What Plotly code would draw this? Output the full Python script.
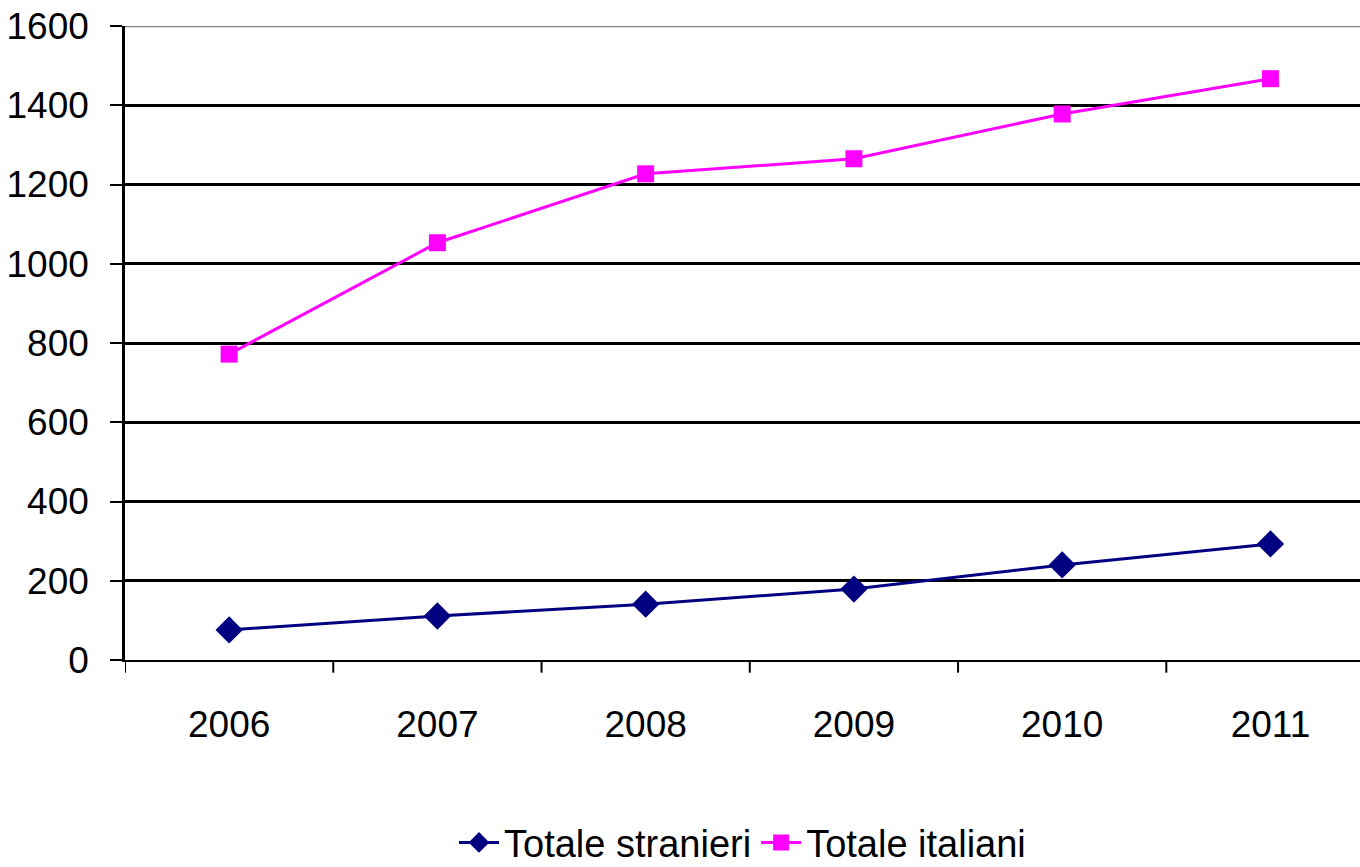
import plotly.graph_objects as go

anni = ["2006", "2007", "2008", "2009", "2010", "2011"]
totale_stranieri = [76, 111, 141, 179, 240, 293]
totale_italiani = [772, 1053, 1227, 1265, 1378, 1467]
y_ticks = [0, 200, 400, 600, 800, 1000, 1200, 1400, 1600]

FONT = "Liberation Sans, Arial, sans-serif"
x_pos = list(range(len(anni)))

fig = go.Figure()
fig.add_trace(go.Scatter(
    x=x_pos, y=totale_stranieri, name="Totale stranieri",
    mode="lines+markers",
    line=dict(color="#000080", width=3),
    marker=dict(symbol="diamond", size=21, color="#000080"),
))
fig.add_trace(go.Scatter(
    x=x_pos, y=totale_italiani, name="Totale italiani",
    mode="lines+markers",
    line=dict(color="#FF00FF", width=3),
    marker=dict(symbol="square", size=17, color="#FF00FF"),
))

# category boundaries carry the x ticks
boundaries = [i - 0.5 for i in range(len(anni) + 1)]

fig.update_layout(
    width=1360, height=867,
    margin=dict(l=125, r=0, t=26, b=207, autoexpand=False),
    paper_bgcolor="white", plot_bgcolor="white",
    font=dict(family=FONT, size=37, color="black"),
    showlegend=True,
    legend=dict(orientation="h", x=0.5, xanchor="center",
                yref="container", y=0.028, yanchor="middle",
                font=dict(size=38), itemwidth=40, tracegroupgap=0),
    xaxis=dict(
        range=[-0.5, 5.43],
        tickmode="array", tickvals=x_pos, ticktext=anni,
        showgrid=False, zeroline=False,
        showline=True, linecolor="black", linewidth=2,
        ticks="", ticklabelstandoff=31,
    ),
    yaxis=dict(
        range=[0, 1600], tickmode="array", tickvals=y_ticks,
        showgrid=True, gridcolor="black", gridwidth=2.5,
        zeroline=False,
        showline=True, linecolor="black", linewidth=2.5,
        ticks="outside", ticklen=12, tickwidth=2, tickcolor="black",
        ticklabelstandoff=14,
    ),
)

# x tick marks at the boundaries between years
for b in boundaries:
    fig.add_shape(type="line", xref="x", yref="paper", x0=b, x1=b, y0=0, y1=-0.02,
                  line=dict(color="black", width=2))

# grey top border of the plot area
fig.add_shape(type="line", xref="paper", yref="y", x0=0, x1=1, y0=1600, y1=1600,
              line=dict(color="#808080", width=2.5))

fig.write_html("out.html")
